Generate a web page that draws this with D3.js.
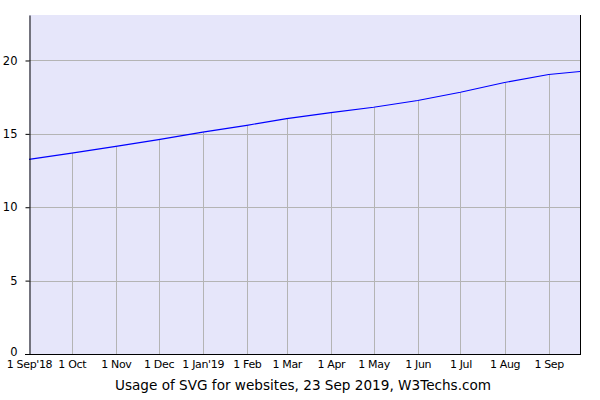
<!DOCTYPE html>
<html>
<head>
<meta charset="utf-8">
<script src="https://cdn.jsdelivr.net/npm/d3@7"></script>
<style>
  html, body { margin: 0; padding: 0; background: #fff; }
  svg { display: block; }
  text { font-family: "DejaVu Sans", Verdana, sans-serif; }
</style>
</head>
<body>
<svg id="chart" width="600" height="400"></svg>
<script>
// ---- data ----
const dates = ["2018-09-01","2018-10-01","2018-11-01","2018-12-01","2019-01-01","2019-02-01",
               "2019-03-01","2019-04-01","2019-05-01","2019-06-01","2019-07-01","2019-08-01",
               "2019-09-01","2019-09-23"];
const values = [13.26, 13.69, 14.15, 14.61, 15.12, 15.58, 16.04, 16.45, 16.81, 17.27, 17.84, 18.50, 19.05, 19.25];
const tickDates = ["2018-09-01","2018-10-01","2018-11-01","2018-12-01","2019-01-01","2019-02-01",
                   "2019-03-01","2019-04-01","2019-05-01","2019-06-01","2019-07-01","2019-08-01","2019-09-01"];
const tickLabels = ["1 Sep'18","1 Oct","1 Nov","1 Dec","1 Jan'19","1 Feb","1 Mar","1 Apr","1 May","1 Jun","1 Jul","1 Aug","1 Sep"];
const yTicks = [0, 5, 10, 15, 20];
const title = "Usage of SVG for websites, 23 Sep 2019, W3Techs.com";

// ---- layout ----
const parse = d3.utcParse("%Y-%m-%d");
const pts = dates.map((d, i) => ({ date: parse(d), value: values[i] }));
const tickPts = tickDates.map(parse);
const mLeft = 29, mRight = 580, mTop = 15, mBottom = 354;

const svg = d3.select("#chart");
const x = d3.scaleUtc().domain([pts[0].date, pts[pts.length - 1].date]).range([mLeft, mRight]);
const y = d3.scaleLinear().domain([0, d3.max(values) * 1.2]).range([mBottom, mTop]);

// background
svg.append("rect").attr("x", mLeft).attr("y", mTop)
  .attr("width", mRight - mLeft).attr("height", mBottom - mTop)
  .attr("fill", "#e6e6fa");

// horizontal grid
svg.append("g").selectAll("line").data(yTicks.filter(v => v > 0)).join("line")
  .attr("x1", mLeft).attr("x2", mRight)
  .attr("y1", d => Math.round(y(d)) + 0.5).attr("y2", d => Math.round(y(d)) + 0.5)
  .attr("stroke", "#b4b4b4").attr("stroke-width", 1);

// vertical grid up to the line
const valueAt = d => values[dates.indexOf(d3.utcFormat("%Y-%m-%d")(d))];
svg.append("g").selectAll("line").data(tickPts.slice(1)).join("line")
  .attr("x1", d => Math.round(x(d)) + 0.5).attr("x2", d => Math.round(x(d)) + 0.5)
  .attr("y1", mBottom).attr("y2", d => y(valueAt(d)))
  .attr("stroke", "#b4b4b4").attr("stroke-width", 1);

// data line
const line = d3.line().x(d => x(d.date)).y(d => y(d.value));
svg.append("path").datum(pts).attr("d", line)
  .attr("fill", "none").attr("stroke", "#0000ff").attr("stroke-width", 1.1);

// right border
svg.append("line").attr("x1", mRight + 0.5).attr("x2", mRight + 0.5)
  .attr("y1", mTop).attr("y2", mBottom).attr("stroke", "#000");

// y axis
const yAxis = svg.append("g").attr("transform", `translate(${mLeft + 0.5},0)`)
  .call(d3.axisLeft(y).tickValues(yTicks).tickSize(4).tickSizeOuter(0).tickPadding(8));
yAxis.select(".domain").attr("stroke", "#000");
yAxis.selectAll("text").attr("font-size", "11.5px").attr("font-family", "DejaVu Sans, Verdana, sans-serif").attr("fill", "#000");
yAxis.selectAll(".tick").filter(d => d === 0).select("text").attr("dy", "0.1em");

// x axis
const xAxis = svg.append("g").attr("transform", `translate(0,${mBottom + 0.5})`)
  .call(d3.axisBottom(x).tickValues(tickPts).tickSize(0).tickSizeOuter(0).tickPadding(6)
    .tickFormat((d, i) => tickLabels[i]));
xAxis.select(".domain").attr("d", `M${mLeft - 4},0H${mRight + 1}`).attr("stroke", "#000");
xAxis.selectAll("text").attr("font-size", "11px").attr("letter-spacing", "-0.35px")
  .attr("font-family", "DejaVu Sans, Verdana, sans-serif").attr("fill", "#000");

// title
svg.append("text").attr("x", 303).attr("y", 390).attr("text-anchor", "middle")
  .attr("font-size", "13.6px").attr("fill", "#000").text(title);
</script>
</body>
</html>
